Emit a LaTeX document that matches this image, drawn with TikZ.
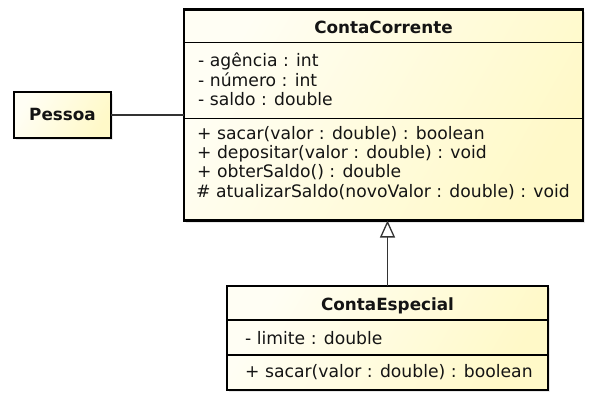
\documentclass[tikz,border=0pt]{standalone}
\usepackage{fontspec}
\setmainfont{DejaVu Sans}
\usetikzlibrary{arrows.meta,shadows}
\definecolor{ylight}{RGB}{255,254,244}
\definecolor{ydark}{RGB}{255,249,200}
\newcommand\memfont{\fontsize{17.2}{19.3}\selectfont}
\newcommand\ttlfont{\bfseries\fontsize{16.8}{19.3}\selectfont}
\begin{document}
\begin{tikzpicture}[x=1pt,y=-1pt,
  classbox/.style={draw=black, line width=2.4pt, left color=ylight, right color=ydark, shading angle=60,
    drop shadow={opacity=0.18, shadow xshift=2pt, shadow yshift=-2pt}, inner sep=0pt, outer sep=0pt},
  sepline/.style={draw=black, line width=1.3pt},
  mtext/.style={font=\memfont, inner sep=0pt, anchor=base west, text=black!92},
  ttext/.style={font=\ttlfont, inner sep=0pt, anchor=base, text=black!92},
  assoc/.style={draw=black!80, line width=1.3pt},
  inh/.style={draw=black!80, line width=1.3pt, -{Triangle[open, length=17pt, width=15pt, fill=white]}}
]
\useasboundingbox (0,0) rectangle (595,392);

% ContaCorrente
\node[classbox, minimum width=399pt, minimum height=211pt, anchor=north west] (cc) at (184,9.5) {};
\draw[sepline] (cc.west |- 0,42.7) -- (cc.east |- 0,42.7);
\draw[sepline] (cc.west |- 0,118.3) -- (cc.east |- 0,118.3);
\node[ttext] (cct) at (cc.center |- 0,33.3) {ContaCorrente};
\node[mtext] (cca1) at (198,66.7) {- agência : int};
\node[mtext] (cca2) at (198,86) {- número : int};
\node[mtext] (cca3) at (198,105.2) {- saldo : double};
\node[mtext] (ccm1) at (197,139.5) {+ sacar(valor : double) : boolean};
\node[mtext] (ccm2) at (197,158.6) {+ depositar(valor : double) : void};
\node[mtext] (ccm3) at (197,177.8) {+ obterSaldo() : double};
\node[mtext] (ccm4) at (196,197.2) {\# atualizarSaldo(novoValor : double) : void};

% Pessoa
\node[classbox, minimum width=97pt, minimum height=46pt, anchor=north west] (pes) at (14,92) {};
\node[ttext] (pest) at (pes.center |- 0,120.5) {Pessoa};

% ContaEspecial
\node[classbox, minimum width=321pt, minimum height=104pt, anchor=north west] (ce) at (227,286) {};
\draw[sepline] (ce.west |- 0,320) -- (ce.east |- 0,320);
\draw[sepline] (ce.west |- 0,355) -- (ce.east |- 0,355);
\node[ttext] (cet) at (ce.center |- 0,310.7) {ContaEspecial};
\node[mtext] (cea1) at (245,344) {- limite : double};
\node[mtext] (cem1) at (245,377) {+ sacar(valor : double) : boolean};

% connectors
\draw[assoc] (pes.east) -- (pes.east -| cc.west);
\draw[inh] (ce.north) -- (ce.north |- cc.south);
\end{tikzpicture}
\end{document}
